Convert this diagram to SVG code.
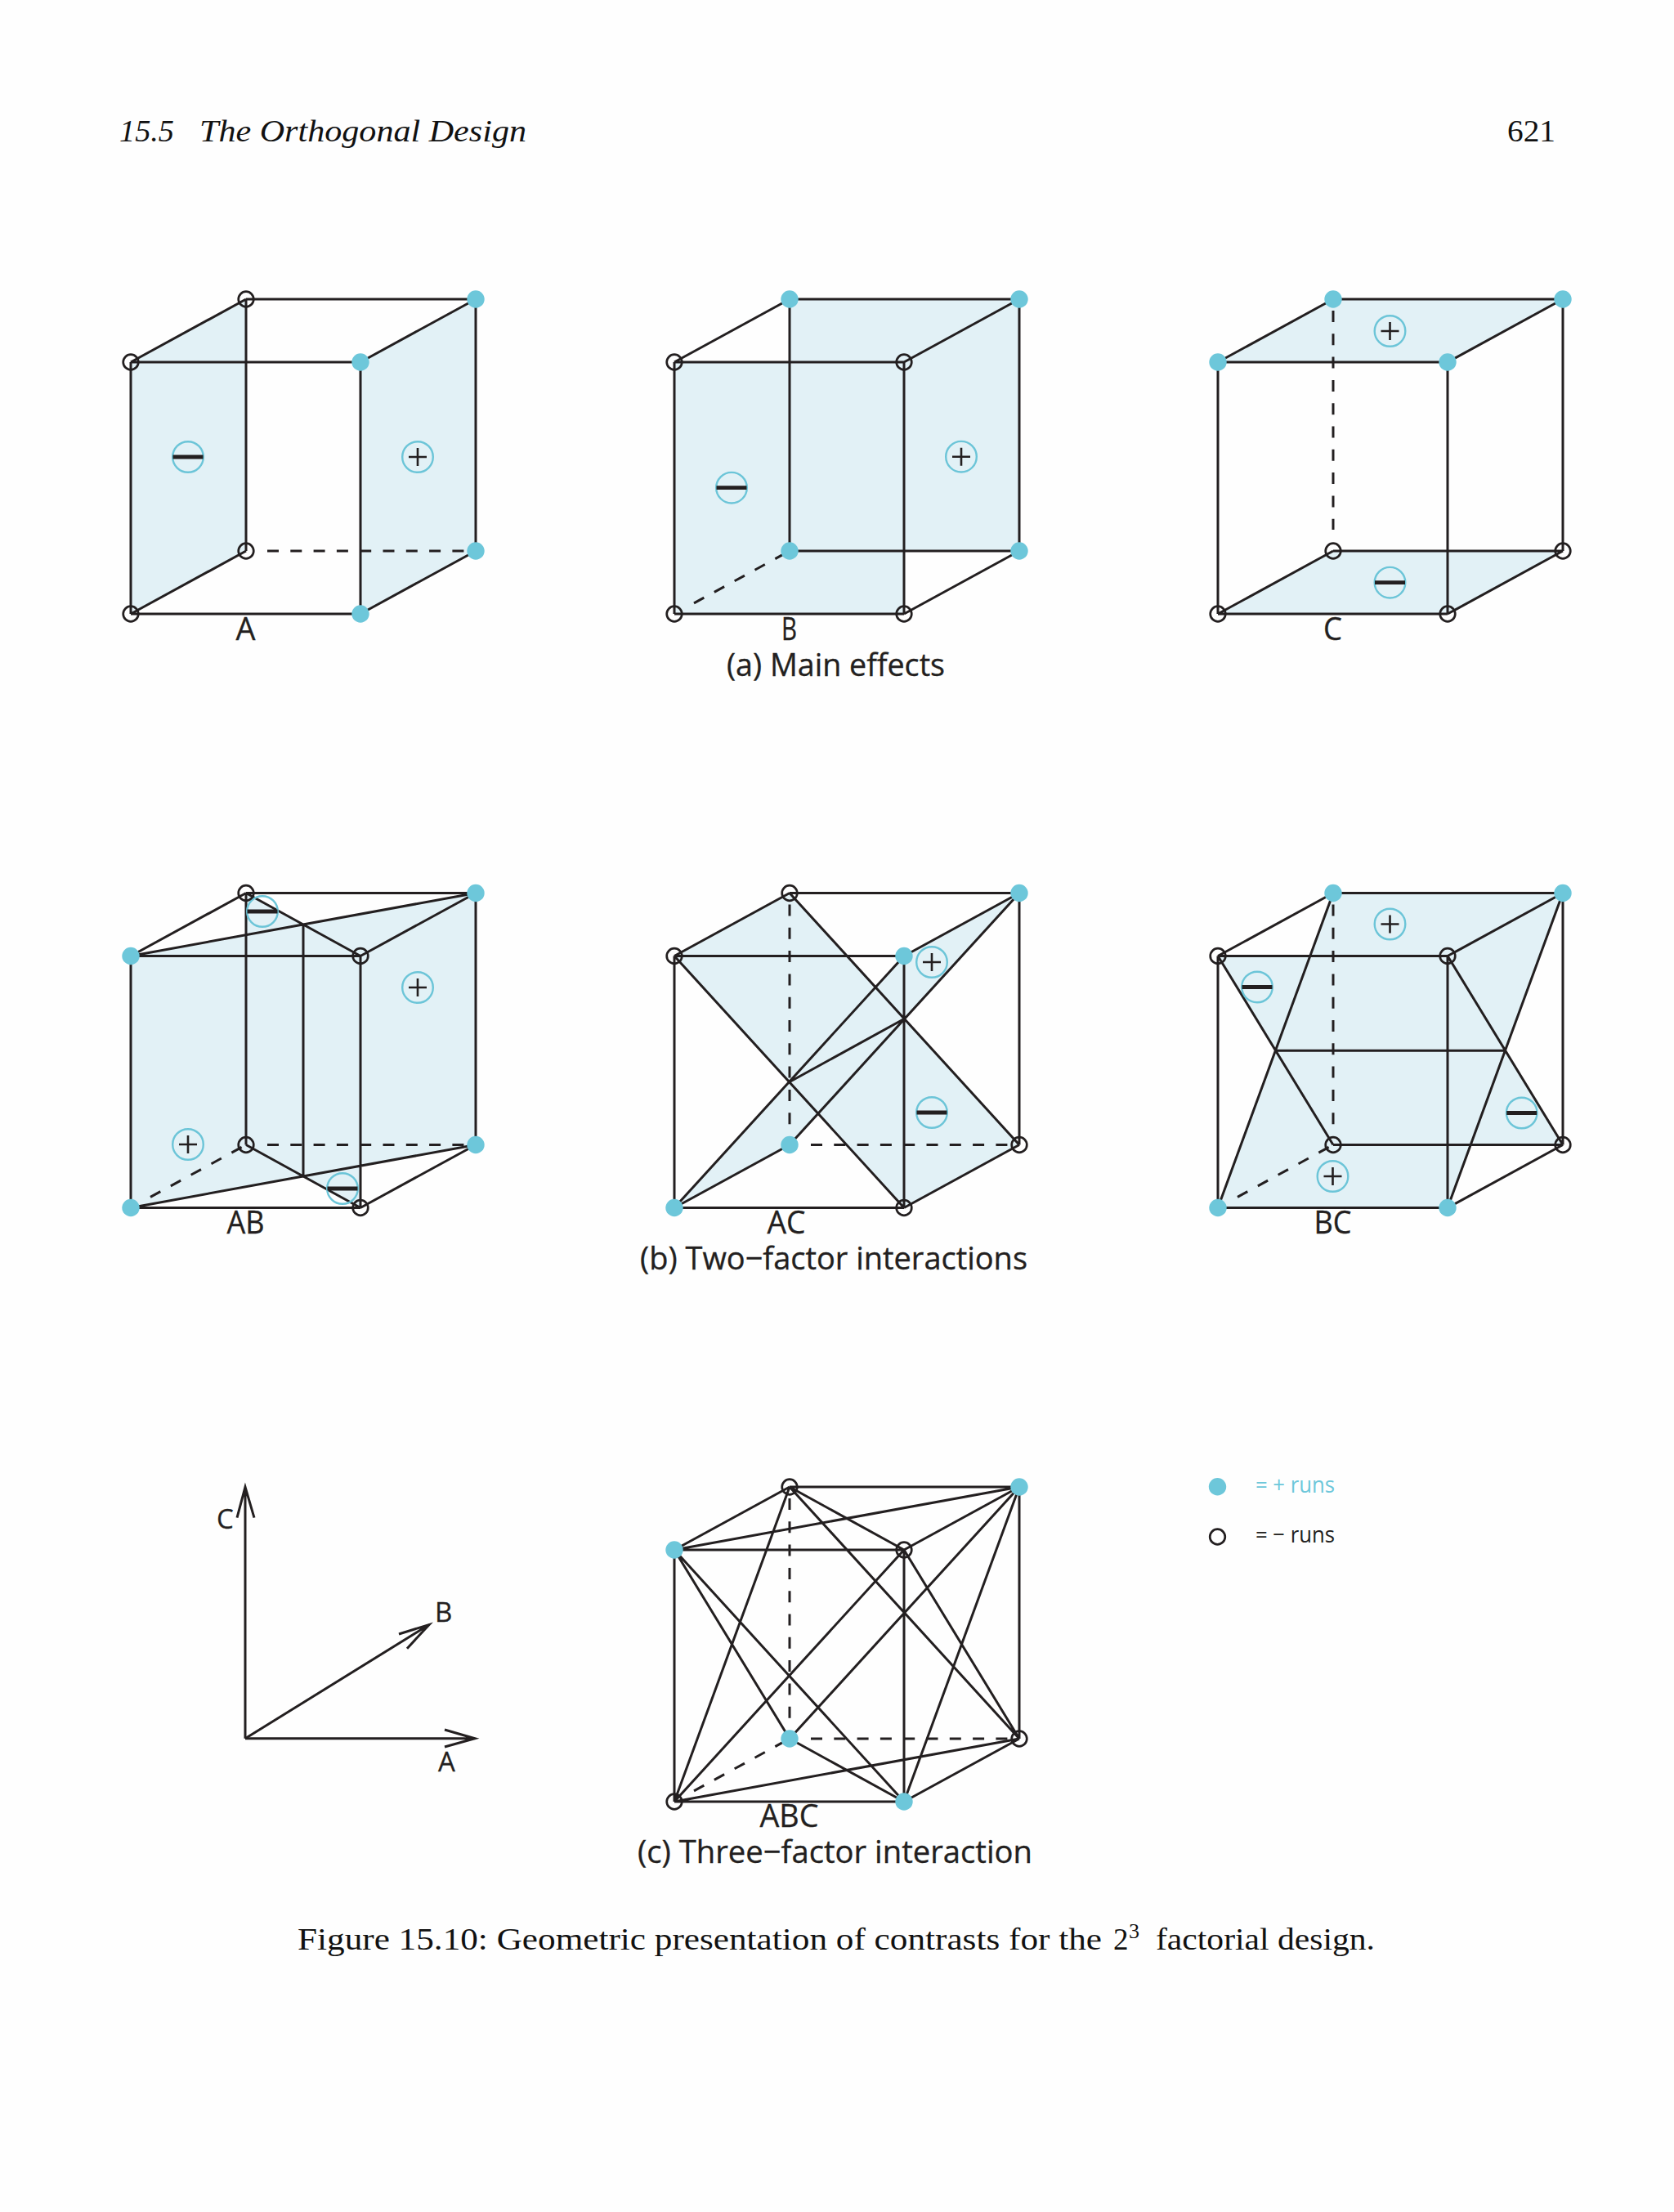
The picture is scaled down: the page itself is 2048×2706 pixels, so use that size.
<svg xmlns="http://www.w3.org/2000/svg" width="2048" height="2706" viewBox="0 0 2048 2706">
<style>
.face{fill:#e2f1f6;stroke:none}
.e{fill:none;stroke:#231f20;stroke-width:3}
.d{fill:none;stroke:#231f20;stroke-width:3;stroke-dasharray:14 14.3}
.dot{fill:#6dc7da}
.open{fill:none;stroke:#231f20;stroke-width:2.7}
.ring{fill:none;stroke:#6cc5d8;stroke-width:2.4}
.sans{font-family:"Open Sans","Noto Sans",sans-serif;fill:#231f20}
.lab{font-size:39px;text-anchor:middle;stroke:#231f20;stroke-width:.35}
.sub{font-size:39px;stroke:#231f20;stroke-width:.35}
.ax{font-size:33px;stroke:#231f20;stroke-width:.3}
.leg{font-size:28px}
.cm{font-family:"Liberation Serif",serif;fill:#111;font-size:37px}
.it{font-style:italic}
</style>
<defs>
<g id="plus"><circle class="ring" r="18.8"/><path d="M-11 0H11M0-11V11" fill="none" stroke="#231f20" stroke-width="2.6"/></g>
<g id="minus"><circle class="ring" r="18.8"/><path d="M-18.5 0H18.5" fill="none" stroke="#231f20" stroke-width="4.8"/></g>
<circle id="pos" class="dot" r="10.7"/>
<circle id="neg" class="open" r="9.3"/>
</defs>
<rect width="2048" height="2706" fill="#fefefe"/>

<g id="header">
<text class="cm it" x="146" y="173" textLength="67" lengthAdjust="spacingAndGlyphs">15.5</text>
<text class="cm it" x="244" y="173" textLength="400" lengthAdjust="spacingAndGlyphs">The Orthogonal Design</text>
<text class="cm" x="1844" y="173" textLength="59" lengthAdjust="spacingAndGlyphs">621</text>
</g>

<g id="cube-A" transform="translate(160 366)">
<polygon class="face" points="0,77 141,0 141,308 0,385"/>
<polygon class="face" points="281,77 422,0 422,308 281,385"/>
<g class="connectors">
<path class="e" d="M0 77H281M141 0H422M0 77L141 0M281 77L422 0M0 77V385M281 77V385M141 0V308M422 0V308M0 385H281M0 385L141 308M281 385L422 308"/>
<path class="d" d="M167 308H422"/>
</g>
<use href="#minus" x="70" y="193"/><use href="#plus" x="351" y="193"/>
<g id="A-flt"><use href="#neg" x="0" y="77"/></g><g id="A-blt"><use href="#neg" x="141" y="0"/></g><g id="A-flb"><use href="#neg" x="0" y="385"/></g><g id="A-blb"><use href="#neg" x="141" y="308"/></g>
<g id="A-frt"><use href="#pos" x="281" y="77"/></g><g id="A-brt"><use href="#pos" x="422" y="0"/></g><g id="A-frb"><use href="#pos" x="281" y="385"/></g><g id="A-brb"><use href="#pos" x="422" y="308"/></g>
<text class="sans lab" x="140.5" y="417" textLength="24" lengthAdjust="spacingAndGlyphs">A</text>
</g>

<g id="cube-B" transform="translate(825 366)">
<polygon class="face" points="0,77 281,77 281,385 0,385"/>
<polygon class="face" points="141,0 422,0 422,308 141,308"/>
<g class="connectors">
<path class="e" d="M0 77H281M141 0H422M0 77L141 0M281 77L422 0M0 77V385M281 77V385M141 0V308M422 0V308M0 385H281M141 308H422M281 385L422 308"/>
<path class="d" d="M24 371.9L141 308"/>
</g>
<use href="#minus" x="70" y="230.7"/><use href="#plus" x="351" y="192.7"/>
<g id="B-flt"><use href="#neg" x="0" y="77"/></g><g id="B-frt"><use href="#neg" x="281" y="77"/></g><g id="B-flb"><use href="#neg" x="0" y="385"/></g><g id="B-frb"><use href="#neg" x="281" y="385"/></g>
<g id="B-blt"><use href="#pos" x="141" y="0"/></g><g id="B-brt"><use href="#pos" x="422" y="0"/></g><g id="B-blb"><use href="#pos" x="141" y="308"/></g><g id="B-brb"><use href="#pos" x="422" y="308"/></g>
<text class="sans lab" x="140.5" y="417" textLength="19" lengthAdjust="spacingAndGlyphs">B</text>
</g>

<g id="cube-C" transform="translate(1490 366)">
<polygon class="face" points="0,77 141,0 422,0 281,77"/>
<polygon class="face" points="0,385 141,308 422,308 281,385"/>
<g class="connectors">
<path class="e" d="M0 77H281M141 0H422M0 77L141 0M281 77L422 0M0 77V385M281 77V385M422 0V308M0 385H281M141 308H422M0 385L141 308M281 385L422 308"/>
<path class="d" d="M141 14V282"/>
</g>
<use href="#plus" x="210.5" y="39"/><use href="#minus" x="210.5" y="346.7"/>
<g id="C-flb"><use href="#neg" x="0" y="385"/></g><g id="C-frb"><use href="#neg" x="281" y="385"/></g><g id="C-blb"><use href="#neg" x="141" y="308"/></g><g id="C-brb"><use href="#neg" x="422" y="308"/></g>
<g id="C-flt"><use href="#pos" x="0" y="77"/></g><g id="C-frt"><use href="#pos" x="281" y="77"/></g><g id="C-blt"><use href="#pos" x="141" y="0"/></g><g id="C-brt"><use href="#pos" x="422" y="0"/></g>
<text class="sans lab" x="140.5" y="417" textLength="23" lengthAdjust="spacingAndGlyphs">C</text>
</g>

<text class="sans sub" x="889" y="827" textLength="267" lengthAdjust="spacingAndGlyphs">(a) Main effects</text>

<g id="cube-AB" transform="translate(160 1092.5)">
<polygon class="face" points="0,77 422,0 422,308 0,385"/>
<polygon class="face" points="141,0 281,77 281,385 141,308"/>
<g class="connectors">
<path class="e" d="M0 77H281M141 0H422M0 77L141 0M281 77L422 0M0 77V385M281 77V385M141 0V308M422 0V308M0 385H281M281 385L422 308M0 77L422 0M141 0L281 77M0 385L422 308M141 308L281 385M211 38.5V346.5"/>
<path class="d" d="M167 308H422M24 371.9L141 308"/>
</g>
<use href="#plus" x="351" y="115.5"/><use href="#plus" x="70" y="307.5"/><use href="#minus" x="161" y="22.5"/><use href="#minus" x="259" y="361.5"/>
<g id="AB-blt"><use href="#neg" x="141" y="0"/></g><g id="AB-frt"><use href="#neg" x="281" y="77"/></g><g id="AB-blb"><use href="#neg" x="141" y="308"/></g><g id="AB-frb"><use href="#neg" x="281" y="385"/></g>
<g id="AB-flt"><use href="#pos" x="0" y="77"/></g><g id="AB-brt"><use href="#pos" x="422" y="0"/></g><g id="AB-flb"><use href="#pos" x="0" y="385"/></g><g id="AB-brb"><use href="#pos" x="422" y="308"/></g>
<text class="sans lab" x="140.5" y="416.5" textLength="46" lengthAdjust="spacingAndGlyphs">AB</text>
</g>

<g id="cube-AC" transform="translate(825 1092.5)">
<polygon class="face" points="0,77 141,0 422,308 281,385"/>
<polygon class="face" points="0,385 281,77 422,0 141,308"/>
<g class="connectors">
<path class="e" d="M0 77H281M141 0H422M0 77L141 0M281 77L422 0M0 77V385M281 77V385M422 0V308M0 385H281M0 385L141 308M281 385L422 308M0 77L281 385M141 0L422 308M0 385L281 77M141 308L422 0M141 231L281 154"/>
<path class="d" d="M141 14V296M167 308H422"/>
</g>
<use href="#plus" x="315" y="84.5"/><use href="#minus" x="315" y="268.5"/>
<g id="AC-flt"><use href="#neg" x="0" y="77"/></g><g id="AC-blt"><use href="#neg" x="141" y="0"/></g><g id="AC-frb"><use href="#neg" x="281" y="385"/></g><g id="AC-brb"><use href="#neg" x="422" y="308"/></g>
<g id="AC-frt"><use href="#pos" x="281" y="77"/></g><g id="AC-brt"><use href="#pos" x="422" y="0"/></g><g id="AC-flb"><use href="#pos" x="0" y="385"/></g><g id="AC-blb"><use href="#pos" x="141" y="308"/></g>
<text class="sans lab" x="137" y="416.5" textLength="47" lengthAdjust="spacingAndGlyphs">AC</text>
</g>

<g id="cube-BC" transform="translate(1490 1092.5)">
<polygon class="face" points="141,0 422,0 281,385 0,385"/>
<polygon class="face" points="0,77 281,77 422,308 141,308"/>
<g class="connectors">
<path class="e" d="M0 77H281M141 0H422M0 77L141 0M281 77L422 0M0 77V385M281 77V385M422 0V308M0 385H281M141 308H422M281 385L422 308M141 0L0 385M422 0L281 385M0 77L141 308M281 77L422 308M70 192.7H351"/>
<path class="d" d="M141 14V296M24 371.9L141 308"/>
</g>
<use href="#plus" x="210.5" y="38"/><use href="#minus" x="48" y="115"/><use href="#minus" x="371.7" y="269"/><use href="#plus" x="140.5" y="346.5"/>
<g id="BC-flt"><use href="#neg" x="0" y="77"/></g><g id="BC-frt"><use href="#neg" x="281" y="77"/></g><g id="BC-blb"><use href="#neg" x="141" y="308"/></g><g id="BC-brb"><use href="#neg" x="422" y="308"/></g>
<g id="BC-blt"><use href="#pos" x="141" y="0"/></g><g id="BC-brt"><use href="#pos" x="422" y="0"/></g><g id="BC-flb"><use href="#pos" x="0" y="385"/></g><g id="BC-frb"><use href="#pos" x="281" y="385"/></g>
<text class="sans lab" x="140.5" y="416.5" textLength="46" lengthAdjust="spacingAndGlyphs">BC</text>
</g>

<text class="sans sub" x="783" y="1553" textLength="474" lengthAdjust="spacingAndGlyphs">(b) Two−factor interactions</text>

<g id="axes">
<g class="connectors">
<path class="e" d="M300 2126.7V1819M290 1856.7L300 1819L311 1856.7"/>
<path class="e" d="M300 2126.7H581M544 2116L581 2126.7L544 2137"/>
<path class="e" d="M300 2126.7L525 1987.5M488 1999L525 1987.5L498 2016.7"/>
</g>
<text class="sans ax" x="265" y="1870">C</text>
<text class="sans ax" x="532" y="1984">B</text>
<text class="sans ax" x="536" y="2167">A</text>
</g>

<g id="cube-ABC" transform="translate(825 1819)">
<g class="connectors">
<path class="e" d="M0 77H281M141 0H422M0 77L141 0M281 77L422 0M0 77V385M281 77V385M422 0V308M0 385H281M281 385L422 308M0 77L422 0M0 77L141 308M0 77L281 385M422 0L141 308M422 0L281 385M141 308L281 385M141 0L281 77M141 0L0 385M141 0L422 308M281 77L0 385M281 77L422 308M0 385L422 308"/>
<path class="d" d="M141 14V296M24 371.9L141 308M167 308H422"/>
</g>
<g id="ABC-blt"><use href="#neg" x="141" y="0"/></g><g id="ABC-frt"><use href="#neg" x="281" y="77"/></g><g id="ABC-flb"><use href="#neg" x="0" y="385"/></g><g id="ABC-brb"><use href="#neg" x="422" y="308"/></g>
<g id="ABC-flt"><use href="#pos" x="0" y="77"/></g><g id="ABC-brt"><use href="#pos" x="422" y="0"/></g><g id="ABC-blb"><use href="#pos" x="141" y="308"/></g><g id="ABC-frb"><use href="#pos" x="281" y="385"/></g>
<text class="sans lab" x="140.5" y="416" textLength="72" lengthAdjust="spacingAndGlyphs">ABC</text>
</g>

<text class="sans sub" x="780" y="2279" textLength="483" lengthAdjust="spacingAndGlyphs">(c) Three−factor interaction</text>

<g id="legend">
<g id="legend-plus"><use href="#pos" x="1489.5" y="1818.7"/><text class="sans leg" x="1536" y="1826" textLength="97" lengthAdjust="spacingAndGlyphs" style="fill:#6dc7da">= + runs</text></g>
<g id="legend-minus"><use href="#neg" x="1489.5" y="1880"/><text class="sans leg" x="1536" y="1887" textLength="97" lengthAdjust="spacingAndGlyphs">= − runs</text></g>
</g>

<g id="caption">
<text class="cm" x="364" y="2385" textLength="984" lengthAdjust="spacingAndGlyphs">Figure 15.10: Geometric presentation of contrasts for the</text>
<text class="cm" x="1362" y="2385">2</text>
<text class="cm" x="1381" y="2371" style="font-size:26px">3</text>
<text class="cm" x="1414" y="2385" textLength="268" lengthAdjust="spacingAndGlyphs">factorial design.</text>
</g>
</svg>
